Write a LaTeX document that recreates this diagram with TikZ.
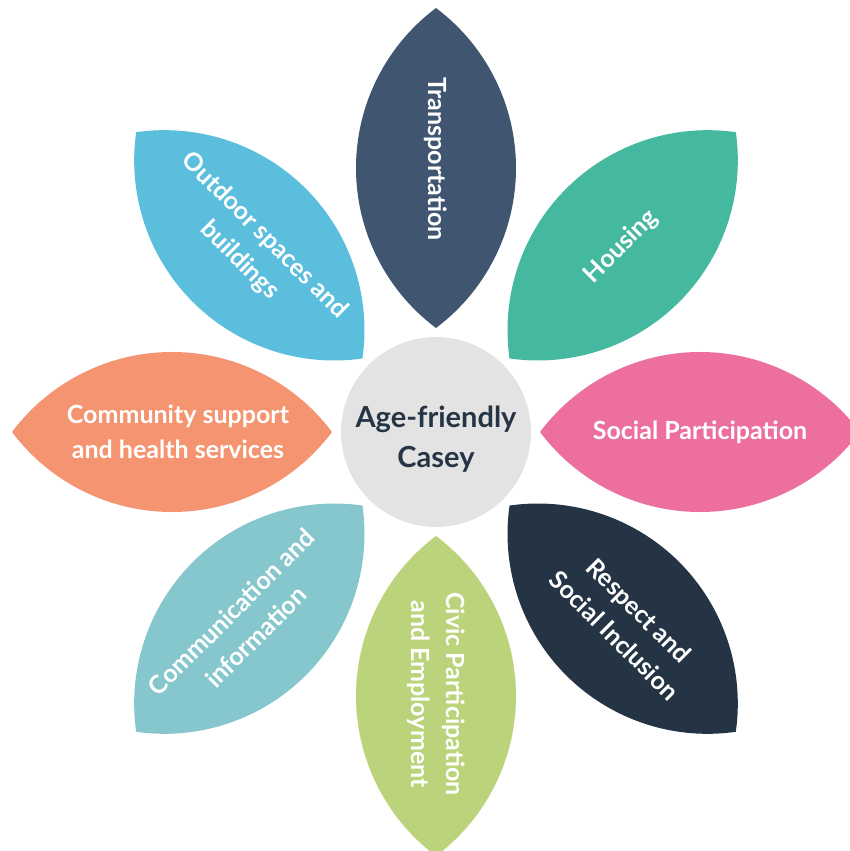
\documentclass[tikz,border=0pt]{standalone}
\usepackage{fontspec}
\setmainfont{Lato}
\usetikzlibrary{positioning}

\definecolor{transportcol}{HTML}{405670}
\definecolor{housingcol}{HTML}{45B8A0}
\definecolor{socialcol}{HTML}{EC6F9E}
\definecolor{respectcol}{HTML}{253444}
\definecolor{civiccol}{HTML}{BBD37A}
\definecolor{commcol}{HTML}{85C7CC}
\definecolor{communitycol}{HTML}{F59470}
\definecolor{outdoorcol}{HTML}{5BBEDD}
\definecolor{hubcol}{HTML}{E3E3E3}
\definecolor{hubtext}{HTML}{263545}

\tikzset{
  lbl/.style={text=white, align=center, inner sep=0pt, font=\bfseries\fontsize{25}{35}\selectfont},
  hub/.style={circle, fill=hubcol, minimum size=190pt, inner sep=0pt},
  hubtitle/.style={align=center, inner sep=0pt, text=hubtext, font=\bfseries\fontsize{29}{40}\selectfont}
}

\begin{document}
\begin{tikzpicture}[x=1pt,y=1pt]
\useasboundingbox (-436,-419) rectangle (414,432);
\clip (-436,-419) rectangle (414,432);
% eight leaves, each a lens of two arcs (radius 200) from r=104 to r=424
\foreach \a/\col in {90/transportcol, 45/housingcol, 0/socialcol, -45/respectcol,
  -90/civiccol, -135/commcol, 180/communitycol, 135/outdoorcol}
{
  \fill[\col, rotate=\a] (104,0) arc[start angle=143.13, end angle=36.87, radius=200]
    arc[start angle=-36.87, end angle=-143.13, radius=200] -- cycle;
}
%centre
\node[hub] (hub) at (0,0) {};
\node[hubtitle, below=-26pt of hub.center] (title) {Age-friendly\\Casey};
%labels
\node[lbl, rotate=-90] (transport) at (90:273) {Transportation};
\node[lbl, rotate=45] (housing) at (45:262) {Housing};
\node[lbl] (social) at (0:264) {Social Participation};
\node[lbl, rotate=-45] (respect) at (-45:270) {Respect and\\Social Inclusion};
\node[lbl, rotate=-90] (civic) at (-90:262) {Civic Participation\\and Employment};
\node[lbl, rotate=45] (comm) at (-135:272) {Communication and\\information};
\node[lbl] (community) at (180:258) {Community support\\and health services};
\node[lbl, rotate=-45] (outdoor) at (135:260) {Outdoor spaces and\\buildings};
\end{tikzpicture}
\end{document}
